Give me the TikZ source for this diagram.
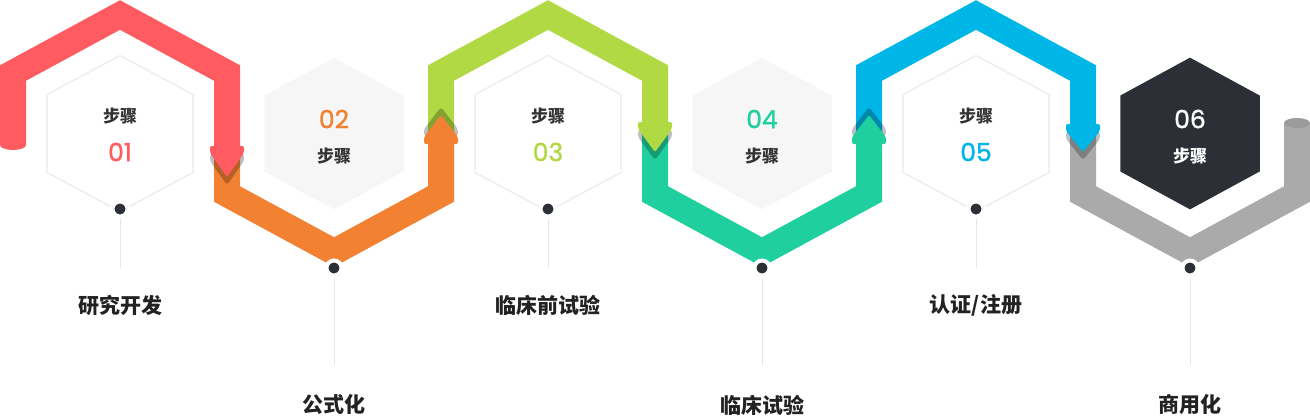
\documentclass[tikz,border=0pt]{standalone}
\usepackage{fontspec}
\setmainfont{Poppins}
\newfontfamily\numfont{Poppins}[FakeBold=1.2]
\newfontfamily\cjk{Noto Sans CJK SC}
\usetikzlibrary{positioning}
\definecolor{cA}{HTML}{FF5B61}
\definecolor{cB}{HTML}{F28131}
\definecolor{cC}{HTML}{B1D944}
\definecolor{cD}{HTML}{1FCF9D}
\definecolor{cE}{HTML}{00B6E6}
\definecolor{cF}{HTML}{AAAAAA}
\definecolor{capc}{HTML}{9B9B9B}
\definecolor{dark}{HTML}{2C2F36}
\definecolor{hexline}{HTML}{EEEEEE}
\definecolor{hexfill}{HTML}{F6F6F6}
\definecolor{stemc}{HTML}{E6E6E6}
\definecolor{txt}{HTML}{333333}
\definecolor{lblc}{HTML}{222222}

\begin{document}
\begin{tikzpicture}[x=1pt,y=-1pt,
  band/.style={line width=26pt,line join=miter},
  hexa/.style={line width=1.5pt},
  dotnode/.style={circle,fill=dark,draw=white,line width=4pt,inner sep=0pt,minimum size=15pt},
  stem/.style={draw=stemc,line width=1pt},
  lbl/.style={font=\cjk\bfseries\fontsize{21}{21}\selectfont,text=lblc},
  steptxt/.style={font=\cjk\bfseries\fontsize{17}{17}\selectfont},
  numtxt/.style={font=\numfont\fontsize{25}{25}\selectfont}]
\useasboundingbox (0,0) rectangle (1310,416);

% hexagons with step text
\foreach \i/\hf/\hl/\w/\s/\nc/\tc in {1/white/hexline/73/39/cA/txt,2/hexfill/hexfill/69/37.5/cB/txt,
  3/white/hexline/73/39/cC/txt,4/hexfill/hexfill/69/37.5/cD/txt,5/white/hexline/73/39/cE/txt,
  6/dark/dark/69/37.5/white/white}{
\pgfmathsetmacro\cx{120+214*(\i-1)}
\filldraw[hexa,fill=\hf,draw=\hl] (\cx,133.5) ++(0,-2*\s) -- ++(\w,\s) -- ++(0,2*\s) -- ++(-\w,\s)
  -- ++(-\w,-\s) -- ++(0,-2*\s) -- cycle;
\ifodd\i
\node[steptxt,text=\tc] (step\i) at (\cx,116) {步骤};
\node[numtxt,text=\nc] (num\i) at (\cx,152) {0\i};
\else
\node[numtxt,text=\nc] (num\i) at (\cx,119) {0\i};
\node[steptxt,text=\tc] (step\i) at (\cx,156) {步骤};
\fi
}

% bands, last one first so each arrow head lies on the next band
\foreach \i/\col/\ys/\yc/\ya/\yb/\yt in {6/cF/128/194/252/123/123,5/cE/140/73/15/125/152,
  4/cD/125/194/252/143/115,3/cC/140/73/15/123/152,2/cB/150/194/252/143/115,1/cA/145/73/15/147/177}{
\pgfmathsetmacro\cx{120+214*(\i-1)}
\pgfmathsetmacro\xl{\cx-107}
\pgfmathsetmacro\xr{\cx+107}
\pgfmathsetmacro\d{ifthenelse(\yt>\yb,1,-1)}
\pgfmathsetmacro\hA{\yb-\d}
\pgfmathsetmacro\hB{\yb+6*\d}
\pgfmathsetmacro\sA{\hA+8*\d}
\pgfmathsetmacro\sB{\hB+8*\d}
\pgfmathsetmacro\sT{\yt+8*\d}
\ifnum\i<6
\fill[black,opacity=.25,rounded corners=3pt] (\xr-17,\sA) -- (\xr+17,\sA) -- (\xr+17,\sB)
  -- (\xr,\sT) -- (\xr-17,\sB) -- cycle;
\fi
\draw[band,\col] (\xl,\ys) -- (\xl,\yc) -- (\cx,\ya) -- (\xr,\yc) -- (\xr,\yb);
\ifnum\i<6
\fill[\col,rounded corners=2pt] (\xr-17,\hA) -- (\xr+17,\hA) -- (\xr+17,\hB)
  -- (\xr,\yt) -- (\xr-17,\hB) -- cycle;
\fi
}
\fill[cA] (13,145) ellipse [x radius=13pt,y radius=5pt];
\fill[capc] (1297,123) ellipse [x radius=13pt,y radius=5pt];

% dots, stems and labels
\foreach \i/\lab in {1/研究开发,2/公式化,3/临床前试验,4/临床试验,5/{认证/注册},6/商用化}{
\pgfmathsetmacro\cx{120+214*(\i-1)}
\ifodd\i
\node[dotnode] (dot\i) at (\cx,209) {};
\coordinate (end\i) at (\cx,268);
\node[lbl] (lab\i) at (\cx,305) {\lab};
\else
\node[dotnode] (dot\i) at (\cx,268) {};
\coordinate (end\i) at (\cx,365);
\node[lbl] (lab\i) at (\cx,405) {\lab};
\fi
\draw[stem] (dot\i) -- (end\i);
}
\end{tikzpicture}
\end{document}
